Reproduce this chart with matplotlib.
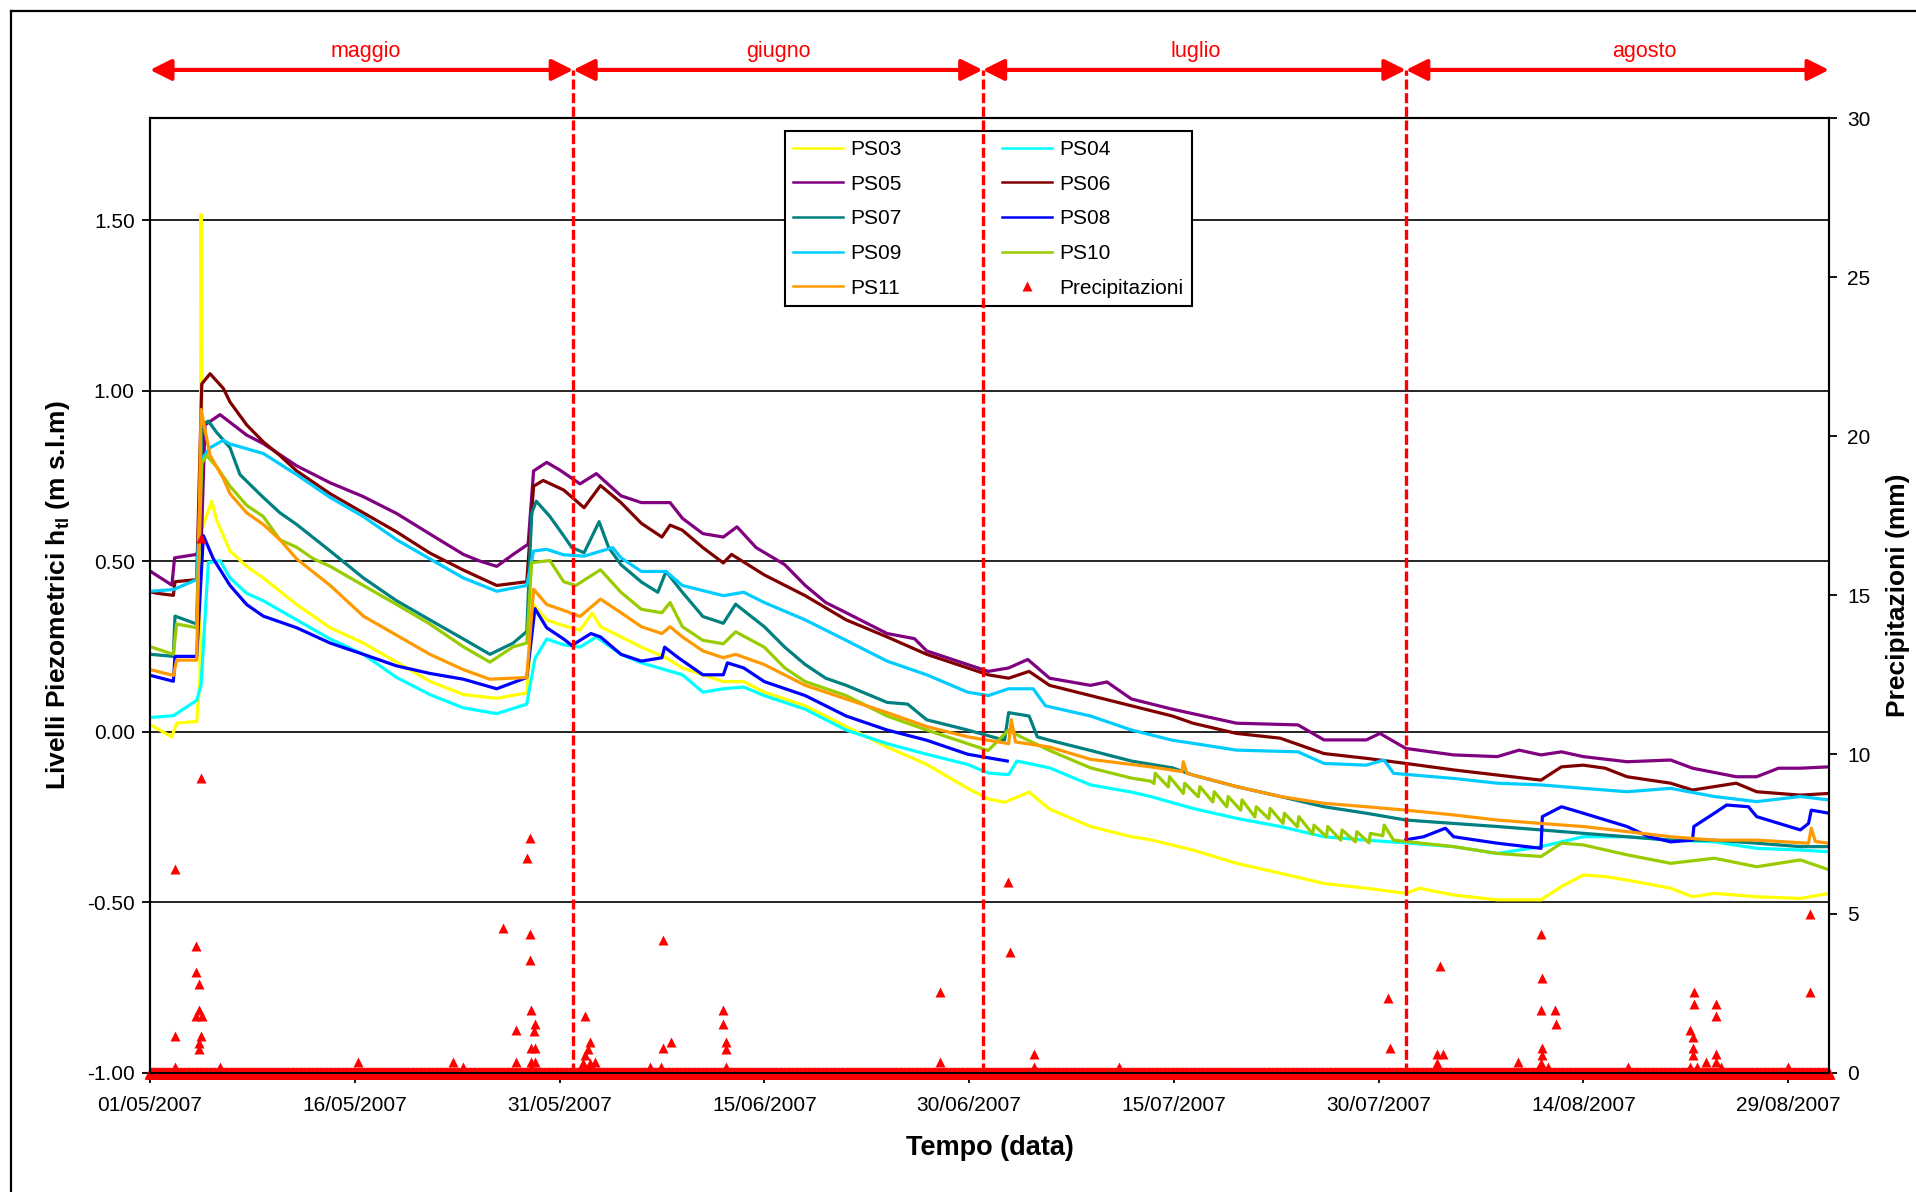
import datetime
import numpy as np
import matplotlib
matplotlib.use('Agg')
import matplotlib.pyplot as plt
import matplotlib.dates as mdates
from matplotlib.lines import Line2D
from matplotlib.ticker import FixedLocator, MultipleLocator, FormatStrFormatter

plt.rcParams['font.family'] = ['Liberation Sans', 'DejaVu Sans']
plt.rcParams['mathtext.fontset'] = 'custom'
plt.rcParams['mathtext.rm'] = 'Liberation Sans'
plt.rcParams['mathtext.bf'] = 'Liberation Sans:bold'

# giorni dal 01/05/2007 e livelli piezometrici (m s.l.m.)
ps03_d = [0.05, 1.6, 1.95, 3.42, 3.66, 3.74, 3.85, 4.52, 4.88, 5.86, 7.08, 8.3, 10.74, 13.2, 15.63,
          18.07, 20.5, 22.96, 25.4, 27.6, 28.1, 29.06, 30.3, 31.5, 32.4, 33.0, 36.0, 37.8, 39.0, 42.0,
          43.5, 45.0, 48.0, 51.0, 54.0, 56.9, 59.9, 61.4, 62.6, 64.4, 65.9, 68.9, 71.9, 73.3, 76.4,
          79.6, 82.8, 86.0, 89.1, 92.0, 93.0, 95.5, 98.7, 101.9, 103.4, 105.0, 106.6, 108.2, 111.4,
          113.0, 114.6, 117.7, 120.9, 123.0]
ps03_h = [0.02, -0.015, 0.025, 0.03, 0.16, 1.517, 0.60, 0.676, 0.62, 0.53, 0.485, 0.451, 0.373, 0.305, 0.26,
          0.204, 0.148, 0.109, 0.098, 0.114, 0.373, 0.328, 0.311, 0.298, 0.348, 0.308, 0.248, 0.217, 0.187, 0.147,
          0.147, 0.116, 0.076, 0.015, -0.045, -0.096, -0.166, -0.197, -0.207, -0.177, -0.227, -0.278, -0.308, -0.317, -0.347,
          -0.386, -0.415, -0.445, -0.459, -0.474, -0.459, -0.479, -0.493, -0.493, -0.454, -0.420, -0.425, -0.435, -0.459,
          -0.484, -0.474, -0.484, -0.489, -0.474]

ps04_d = [0.05, 1.71, 3.42, 3.74, 4.27, 5.13, 5.86, 7.08, 8.3, 10.74, 13.2, 15.63, 18.07, 20.5, 22.96,
          25.4, 27.6, 28.2, 29.06, 30.3, 31.5, 32.7, 34.5, 36.0, 39.0, 40.5, 42.0, 43.5, 45.0, 48.0,
          51.0, 54.0, 56.9, 59.9, 61.4, 62.9, 63.5, 65.9, 68.9, 71.9, 73.3, 76.4, 79.6, 82.8, 86.0,
          89.1, 92.3, 95.5, 98.7, 101.9, 105.0, 108.2, 111.4, 114.6, 117.7, 120.9, 123.0]
ps04_h = [0.042, 0.047, 0.092, 0.137, 0.496, 0.502, 0.451, 0.406, 0.384, 0.328, 0.272, 0.227, 0.159, 0.109, 0.07,
          0.053, 0.081, 0.215, 0.272, 0.255, 0.248, 0.278, 0.227, 0.202, 0.167, 0.116, 0.126, 0.131, 0.106, 0.066,
          0.005, -0.035, -0.066, -0.096, -0.121, -0.126, -0.086, -0.106, -0.156, -0.177, -0.190, -0.225, -0.254, -0.278, -0.308,
          -0.318, -0.327, -0.337, -0.357, -0.337, -0.308, -0.308, -0.318, -0.323, -0.342, -0.347, -0.352]

ps05_d = [0.05, 1.6, 1.8, 3.4, 3.75, 4.03, 5.13, 7.08, 8.3, 10.74, 13.2, 15.6, 18.07, 20.5, 22.96,
          24.2, 25.4, 26.6, 27.7, 28.1, 29.06, 30.0, 31.5, 32.7, 34.5, 36.0, 38.1, 39.0, 40.5, 42.0,
          43.0, 44.4, 46.5, 48.0, 49.5, 51.0, 54.0, 56.0, 56.9, 58.4, 59.9, 61.4, 62.9, 64.3, 65.9,
          68.9, 70.1, 71.9, 74.9, 79.6, 84.1, 86.0, 89.1, 90.1, 92.0, 95.5, 98.7, 100.3, 101.9, 103.4,
          105.0, 108.2, 111.4, 113.0, 116.2, 117.7, 119.3, 120.9, 123.0]
ps05_h = [0.47, 0.43, 0.51, 0.52, 0.55, 0.90, 0.93, 0.87, 0.845, 0.78, 0.73, 0.69, 0.64, 0.58, 0.52,
          0.50, 0.485, 0.52, 0.55, 0.765, 0.79, 0.768, 0.727, 0.757, 0.692, 0.672, 0.672, 0.626, 0.581, 0.571,
          0.601, 0.540, 0.490, 0.429, 0.379, 0.349, 0.288, 0.273, 0.237, 0.217, 0.197, 0.177, 0.187, 0.212, 0.157,
          0.136, 0.146, 0.096, 0.066, 0.025, 0.020, -0.024, -0.024, -0.005, -0.049, -0.068, -0.073, -0.054, -0.068, -0.059,
          -0.073, -0.088, -0.083, -0.107, -0.132, -0.132, -0.107, -0.107, -0.103]

ps06_d = [0.05, 0.5, 1.71, 1.83, 3.42, 3.79, 4.4, 5.37, 5.86, 7.08, 8.3, 9.52, 10.74, 13.2, 15.63,
          18.07, 20.5, 22.96, 25.4, 27.6, 28.1, 28.8, 30.3, 31.8, 33.0, 34.5, 36.0, 37.5, 38.1, 39.0,
          40.5, 42.0, 42.6, 45.0, 48.0, 51.0, 54.0, 56.9, 59.9, 61.4, 62.9, 64.4, 65.9, 68.9, 71.9,
          74.9, 76.4, 79.6, 82.8, 86.0, 89.1, 92.0, 95.5, 98.7, 101.9, 103.4, 105.0, 106.6, 108.2, 111.4,
          113.0, 114.6, 116.2, 117.7, 120.9, 123.0]
ps06_h = [0.41, 0.406, 0.40, 0.44, 0.446, 1.02, 1.05, 1.007, 0.967, 0.90, 0.85, 0.81, 0.765, 0.698, 0.642,
          0.586, 0.524, 0.474, 0.429, 0.44, 0.72, 0.737, 0.709, 0.657, 0.722, 0.672, 0.611, 0.571, 0.606, 0.591,
          0.540, 0.495, 0.520, 0.460, 0.399, 0.328, 0.278, 0.227, 0.187, 0.167, 0.157, 0.177, 0.136, 0.106, 0.076,
          0.046, 0.025, -0.005, -0.019, -0.064, -0.078, -0.093, -0.112, -0.127, -0.142, -0.103, -0.098, -0.107, -0.132, -0.151,
          -0.171, -0.161, -0.151, -0.176, -0.186, -0.181]

ps07_d = [0.05, 1.71, 1.83, 3.42, 3.79, 4.27, 4.88, 5.86, 6.59, 8.3, 9.52, 10.74, 13.2, 15.63, 18.07,
          20.5, 22.96, 24.9, 26.6, 27.6, 27.96, 28.3, 29.3, 30.3, 30.9, 31.8, 32.9, 33.6, 34.5, 36.0,
          37.2, 37.8, 39.0, 40.5, 42.0, 42.9, 45.0, 46.5, 48.0, 49.5, 51.0, 54.0, 55.5, 56.9, 59.9,
          62.6, 62.9, 64.4, 65.0, 65.9, 68.9, 71.9, 74.9, 76.4, 79.6, 82.8, 86.0, 89.1, 92.0, 95.5,
          98.7, 101.9, 105.0, 108.2, 111.4, 114.6, 117.7, 120.9, 123.0]
ps07_h = [0.227, 0.221, 0.339, 0.316, 0.90, 0.911, 0.878, 0.833, 0.754, 0.687, 0.642, 0.608, 0.53, 0.451, 0.384,
          0.328, 0.272, 0.227, 0.26, 0.294, 0.642, 0.676, 0.631, 0.575, 0.540, 0.525, 0.616, 0.540, 0.490, 0.439,
          0.409, 0.470, 0.409, 0.338, 0.318, 0.374, 0.308, 0.248, 0.197, 0.157, 0.136, 0.086, 0.081, 0.035, 0.005,
          -0.025, 0.056, 0.046, -0.015, -0.025, -0.055, -0.086, -0.106, -0.127, -0.161, -0.190, -0.220, -0.239, -0.259, -0.269,
          -0.278, -0.288, -0.298, -0.308, -0.318, -0.318, -0.327, -0.337, -0.337]

ps08_d = [0.05, 1.71, 1.83, 3.42, 3.91, 4.64, 5.86, 7.08, 8.3, 10.74, 13.2, 15.63, 18.07, 20.5, 22.96,
          25.4, 27.6, 28.2, 29.06, 30.3, 30.9, 32.3, 33.0, 34.5, 36.0, 37.5, 37.7, 38.7, 40.5, 42.0,
          42.3, 43.5, 45.0, 48.0, 51.0, 54.0, 56.9, 59.9, 62.8, 62.9, 92.0, 93.3, 94.9, 95.5, 98.7,
          101.9, 102.0, 103.4, 105.0, 108.2, 109.8, 111.4, 113.0, 113.1, 114.6, 115.5, 117.1, 117.7, 120.9, 121.5,
          121.7, 123.0]
ps08_h = [0.165, 0.148, 0.221, 0.221, 0.575, 0.507, 0.429, 0.373, 0.339, 0.305, 0.26, 0.227, 0.193, 0.171, 0.154,
          0.126, 0.159, 0.361, 0.305, 0.272, 0.253, 0.288, 0.278, 0.227, 0.207, 0.217, 0.248, 0.217, 0.167, 0.167,
          0.202, 0.187, 0.147, 0.106, 0.046, 0.005, -0.025, -0.066, -0.086, np.nan, -0.317, -0.308, -0.283, -0.308, -0.327,
          -0.342, -0.249, -0.220, -0.239, -0.278, -0.308, -0.323, -0.318, -0.278, -0.239, -0.215, -0.220, -0.249, -0.288, -0.269,
          -0.230, -0.239]

ps09_d = [0.05, 1.71, 3.42, 3.79, 4.4, 5.37, 5.86, 8.3, 10.74, 13.2, 15.63, 18.07, 20.5, 22.96, 25.4,
          27.6, 28.1, 29.06, 30.3, 31.8, 33.9, 34.5, 36.0, 37.8, 39.0, 42.0, 43.5, 45.0, 48.0, 51.0,
          54.0, 56.9, 59.9, 61.4, 62.9, 64.7, 65.6, 68.9, 71.9, 74.9, 76.4, 79.6, 84.1, 86.0, 89.1,
          90.4, 91.1, 95.5, 98.7, 101.9, 105.0, 108.2, 111.4, 114.6, 117.7, 120.9, 123.0]
ps09_h = [0.412, 0.417, 0.446, 0.799, 0.833, 0.855, 0.844, 0.816, 0.754, 0.687, 0.631, 0.563, 0.507, 0.451, 0.412,
          0.429, 0.530, 0.535, 0.519, 0.515, 0.540, 0.510, 0.470, 0.470, 0.429, 0.399, 0.409, 0.379, 0.328, 0.268,
          0.207, 0.167, 0.116, 0.106, 0.126, 0.126, 0.076, 0.046, 0.005, -0.025, -0.034, -0.054, -0.059, -0.093, -0.098,
          -0.083, -0.122, -0.137, -0.151, -0.156, -0.166, -0.176, -0.166, -0.190, -0.205, -0.190, -0.200]

# PS10 oscilla giornalmente in luglio (denti di sega)
ps10_d = [0.05, 1.71, 1.95, 3.42, 3.79, 4.15, 4.88, 5.86, 7.08, 8.3, 9.52, 10.74, 11.97, 13.2, 15.63,
          18.07, 20.5, 22.96, 24.9, 26.6, 27.6, 27.96, 29.3, 30.3, 31.2, 33.0, 34.5, 36.0, 37.5, 38.1,
          39.0, 40.5, 42.0, 42.9, 45.0, 46.5, 48.0, 51.0, 54.0, 56.9, 59.9, 61.4, 62.9, 63.8, 65.9,
          68.9, 71.9, 73.3,
          73.55, 73.64, 74.6, 74.69, 75.7, 75.8, 76.8, 76.91, 77.86, 77.96, 78.88, 78.98, 79.9, 80.0,
          80.94, 81.04, 81.96, 82.06, 83.0, 83.1, 84.06, 84.16, 85.17, 85.27, 86.18, 86.28, 87.23, 87.33,
          88.31, 88.41, 89.3, 89.4, 90.31, 90.41,
          91.1, 95.5, 98.7, 101.9, 103.4, 105.0, 108.2, 111.4, 114.6, 117.7, 120.9, 123.0]
ps10_h = [0.249, 0.227, 0.316, 0.305, 0.788, 0.81, 0.777, 0.72, 0.664, 0.631, 0.563, 0.541, 0.507, 0.485, 0.429,
          0.373, 0.316, 0.249, 0.204, 0.249, 0.26, 0.496, 0.502, 0.44, 0.429, 0.475, 0.409, 0.359, 0.349, 0.379,
          0.308, 0.268, 0.258, 0.293, 0.248, 0.187, 0.147, 0.106, 0.046, 0.005, -0.035, -0.055, 0.005, -0.015, -0.055,
          -0.106, -0.136, -0.145,
          -0.152, -0.122, -0.162, -0.132, -0.181, -0.151, -0.191, -0.161, -0.206, -0.176, -0.220, -0.190, -0.230, -0.200,
          -0.250, -0.220, -0.255, -0.225, -0.269, -0.239, -0.279, -0.249, -0.300, -0.274, -0.308, -0.278, -0.318, -0.288,
          -0.323, -0.293, -0.326, -0.298, -0.305, -0.274,
          -0.318, -0.337, -0.357, -0.366, -0.327, -0.332, -0.361, -0.386, -0.371, -0.396, -0.376, -0.405]

ps11_d = [0.05, 1.71, 1.95, 3.42, 3.74, 4.4, 5.37, 5.86, 7.08, 8.3, 9.52, 10.74, 13.2, 15.63, 18.07,
          20.5, 22.96, 24.9, 27.6, 28.1, 29.06, 30.3, 31.5, 33.0, 34.5, 36.0, 37.5, 38.1, 39.0, 40.5,
          42.0, 42.9, 45.0, 48.0, 51.0, 54.0, 56.9, 59.9, 62.9, 63.1, 63.4, 65.9, 68.9, 71.9, 73.3,
          75.6, 75.7, 75.96, 79.6, 82.8, 86.0, 89.1, 92.0, 95.5, 98.7, 101.9, 105.0, 108.2, 111.4, 114.6,
          117.7, 121.5, 121.7, 122.0, 123.0]
ps11_h = [0.182, 0.165, 0.21, 0.21, 0.945, 0.81, 0.743, 0.698, 0.642, 0.608, 0.563, 0.507, 0.429, 0.339, 0.283,
          0.227, 0.182, 0.154, 0.159, 0.418, 0.373, 0.356, 0.338, 0.389, 0.349, 0.308, 0.288, 0.308, 0.278, 0.237,
          0.217, 0.227, 0.197, 0.136, 0.096, 0.056, 0.015, -0.015, -0.035, 0.035, -0.030, -0.045, -0.081, -0.096, -0.103,
          -0.117, -0.088, -0.122, -0.161, -0.190, -0.210, -0.220, -0.230, -0.244, -0.259, -0.269, -0.278, -0.293, -0.308, -0.318,
          -0.318, -0.327, -0.283, -0.322, -0.327]

# precipitazioni non nulle (giorno, mm)
rain_d = [1.8, 1.8, 1.8, 3.4, 3.4, 3.6, 3.6, 3.4, 3.8, 3.7, 3.6, 3.6, 3.7, 3.7,
          5.1, 15.2, 22.2, 22.95, 25.85, 26.8, 26.8,
          27.6, 27.8, 27.8, 27.8, 27.9, 28.2, 28.1, 27.9, 28.2, 27.9, 28.2, 27.9,
          31.9, 32.2, 32.05, 31.9, 31.7, 32.2, 32.6,
          36.6, 37.45, 37.6, 37.6, 38.2, 42.0, 42.0, 42.2, 42.2, 42.2, 57.9, 57.9,
          62.85, 62.97, 64.75, 64.75, 71.0, 90.7, 90.85, 94.5, 94.3, 94.7, 94.3,
          100.2, 101.9, 102.0, 101.9, 102.9, 103.0, 102.0, 102.0, 101.9, 102.4,
          108.3, 112.8, 113.0, 113.0, 113.0, 113.1, 113.1, 114.7, 114.7, 114.7, 114.0, 114.7,
          112.8, 113.3, 115.1, 120.0, 121.6, 121.6]
rain_mm = [6.4, 1.16, 0.19, 3.98, 3.17, 2.79, 1.97, 1.78, 1.78, 1.16, 0.92, 0.74, 9.25, 16.8,
           0.19, 0.35, 0.35, 0.17, 4.56, 1.34, 0.35,
           6.75, 7.38, 4.36, 3.54, 1.97, 1.53, 1.32, 0.76, 0.76, 0.35, 0.35, 0.14,
           1.78, 0.95, 0.74, 0.55, 0.29, 0.29, 0.35,
           0.17, 0.17, 4.17, 0.76, 0.95, 1.97, 1.53, 0.95, 0.74, 0.17, 2.54, 0.35,
           6.0, 3.8, 0.59, 0.17, 0.17, 2.36, 0.76, 3.35, 0.59, 0.59, 0.31,
           0.35, 4.36, 2.98, 1.97, 1.97, 1.53, 0.76, 0.55, 0.31, 0.17,
           0.17, 1.34, 1.13, 0.76, 0.55, 2.54, 2.15, 2.15, 1.78, 0.59, 0.35, 0.35,
           0.17, 0.17, 0.17, 0.17, 4.99, 2.54]

# pluviometro a passo orario, 01/05 - 01/09
rain_step = 1.0 / 24
n_days = 123

months = ['maggio', 'giugno', 'luglio', 'agosto']
month_bounds = [0, 31, 61, 92, 123]
month_label_day = [15.8, 46.0, 76.6, 109.5]

start = mdates.date2num(datetime.datetime(2007, 5, 1))

fig = plt.figure(figsize=(19.16, 11.92), dpi=100)
ax = fig.add_axes([0.0783, 0.1001, 0.8763, 0.8009])
ax2 = ax.twinx()

series = [
    ('PS03', ps03_d, ps03_h, '#FFFF00'),
    ('PS04', ps04_d, ps04_h, '#00FFFF'),
    ('PS05', ps05_d, ps05_h, '#800080'),
    ('PS06', ps06_d, ps06_h, '#800000'),
    ('PS07', ps07_d, ps07_h, '#008080'),
    ('PS08', ps08_d, ps08_h, '#0000FF'),
    ('PS09', ps09_d, ps09_h, '#00CCFF'),
    ('PS10', ps10_d, ps10_h, '#99CC00'),
    ('PS11', ps11_d, ps11_h, '#FF9900'),
]
handles = {}
for name, d, h, c in series:
    ln, = ax.plot(start + np.array(d), h, color=c, lw=2.3, label=name)
    handles[name] = ln

t_rain = np.arange(0, n_days + rain_step / 2, rain_step)
ax2.plot(start + t_rain, np.zeros_like(t_rain), '^', color='red', ms=8, mec='none', clip_on=False)
rain_h, = ax2.plot(start + np.array(rain_d), rain_mm, '^', color='red', ms=7.5, mec='none',
                   clip_on=False, label='Precipitazioni')

ax.set_xlim(start, start + n_days)
ax.set_ylim(-1.0, 1.8)
ax2.set_ylim(0, 30)

ax.xaxis.set_major_locator(FixedLocator(start + np.arange(0, 121, 15)))
ax.xaxis.set_major_formatter(mdates.DateFormatter('%d/%m/%Y'))
ax.xaxis.set_minor_locator(MultipleLocator(1))
ax.yaxis.set_major_locator(FixedLocator(np.arange(-1.0, 1.51, 0.5)))
ax.yaxis.set_major_formatter(FormatStrFormatter('%.2f'))
ax2.yaxis.set_major_locator(MultipleLocator(5))

ax.yaxis.grid(True, color='black', lw=1.2)
ax.tick_params(axis='x', which='major', direction='out', length=7, width=1.3, labelsize=15, pad=10)
ax.tick_params(axis='x', which='minor', direction='out', length=4, width=1.0)
ax.tick_params(axis='y', direction='out', length=6, width=1.3, labelsize=15, pad=5)
ax2.tick_params(axis='y', direction='out', length=6, width=1.3, labelsize=15, pad=7)
for a in (ax, ax2):
    for s in a.spines.values():
        s.set_linewidth(1.5)

ax.set_xlabel('Tempo (data)', fontsize=19.5, fontweight='bold', labelpad=14)
ax.set_ylabel(r'Livelli Piezometrici h$_{\mathbf{tl}}$ (m s.l.m)', fontsize=19, fontweight='bold', labelpad=11)
ax2.set_ylabel('Precipitazioni (mm)', fontsize=19, fontweight='bold', labelpad=11)

# frecce dei mesi sopra il grafico
arrow_y = 1.941
for i, m in enumerate(months):
    ax.annotate('', xy=(start + month_bounds[i + 1], arrow_y), xytext=(start + month_bounds[i], arrow_y),
                arrowprops=dict(arrowstyle='<|-|>,head_length=0.4,head_width=0.2', mutation_scale=32,
                                color='red', lw=3, shrinkA=0, shrinkB=0),
                annotation_clip=False)
    ax.text(start + month_label_day[i], 1.996, m, color='red', fontsize=15.5, ha='center', va='center')

for b in month_bounds[1:-1]:
    ax.axvline(start + b, ymin=0, ymax=(arrow_y + 1.0) / 2.8, color='red', lw=2.4,
               ls=(0, (3, 1.1)), clip_on=False, zorder=6)

order = ['PS03', 'PS05', 'PS07', 'PS09', 'PS11', 'PS04', 'PS06', 'PS08', 'PS10']
leg_h = [handles[k] for k in order] + [rain_h]
leg = ax.legend(leg_h, [h.get_label() for h in leg_h], ncol=2, loc='upper left',
                bbox_to_anchor=(0.378, 0.986), fontsize=15, frameon=True, fancybox=False,
                edgecolor='black', framealpha=1, handlelength=2.4, handletextpad=0.35,
                columnspacing=4.8, labelspacing=0.75, borderpad=0.42, borderaxespad=0)
leg.get_frame().set_linewidth(1.5)
for lh in leg.get_lines():
    lh.set_linewidth(1.8)
leg.set_zorder(5)

# cornice esterna
fig.add_artist(Line2D([11 / 1916, 11 / 1916], [0, 1 - 11 / 1192], color='black', lw=1.6))
fig.add_artist(Line2D([11 / 1916, 1], [1 - 11 / 1192, 1 - 11 / 1192], color='black', lw=1.6))

fig.savefig('out.png', dpi=100)
